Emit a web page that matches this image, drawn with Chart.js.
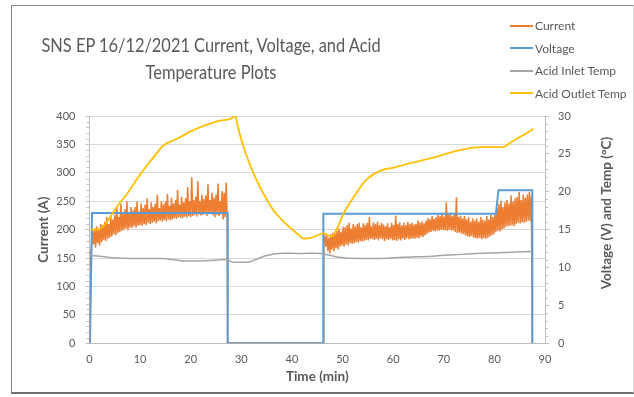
<!DOCTYPE html>
<html><head><meta charset="utf-8">
<script src="https://cdn.jsdelivr.net/npm/chart.js@4.4.1/dist/chart.umd.min.js"></script>
<style>
html,body{margin:0;padding:0;background:#fff;}
#wrap{position:relative;width:634px;height:397px;overflow:hidden;font-family:Lato,"Open Sans",sans-serif;}
#frame{position:absolute;left:11px;top:5px;width:621px;height:386px;border:1px solid #858585;border-bottom:2px solid #707070;border-right:1px solid #d6d6d6;}
#title{position:absolute;left:0;width:422px;top:31px;text-align:center;font-size:20px;line-height:27px;color:#595959;transform:scaleX(0.82);transform-origin:211px 0;white-space:nowrap;}
#legend{position:absolute;left:510px;top:14.5px;font-size:12px;color:#595959;}
.li{height:22.5px;display:flex;align-items:center;white-space:nowrap;}
.sw{width:23px;height:2px;margin-right:2px;}
canvas{position:absolute;left:0;top:0;}
</style></head>
<body><div id="wrap">
<div id="frame"></div>
<canvas id="c" width="634" height="397"></canvas>
<div id="title">SNS EP 16/12/2021 Current, Voltage, and Acid<br>Temperature Plots</div>
<div id="legend"></div>
</div>
<script>
const seriesNames = ["Current","Voltage","Acid Inlet Temp","Acid Outlet Temp"];
const seriesColors = ["#ED7D31","#5B9BD5","#A5A5A5","#FFC000"];
const xTicks = [0,10,20,30,40,50,60,70,80,90];
const leftTicks = [0,50,100,150,200,250,300,350,400];
const rightTicks = [0,5,10,15,20,25,30];

// Current (A): first run, samples from t=0.4 min every 0.2 min
const currentSeg1Start = 0.4, currentSeg1Step = 0.2;
const currentSeg1 = [
170,198,174,202,168,206,176,200,172,210,
178,208,182,214,180,222,184,210,186,225,
188,218,192,226,190,240,194,222,196,245,
198,230,200,236,202,250,199,228,204,240,
203,234,206,240,204,250,207,232,208,246,
207,238,210,244,208,255,212,236,210,248,
212,240,214,246,211,262,215,238,216,250,
214,244,217,250,215,263,218,242,216,256,
218,246,220,252,219,270,222,244,221,258,
220,248,223,255,221,275,224,250,222,292,
224,252,226,258,223,285,227,250,225,262,
226,254,228,260,224,280,227,252,229,265,
225,256,222,262,226,281,224,250,227,268,
218,265,222,283,225
];
// Current (A): second run, samples from t=46.3 min every 0.2 min
const currentSeg2Start = 46.3, currentSeg2Step = 0.2;
const currentSeg2 = [
178,188,170,190,162,186,158,192,165,195,
162,194,168,198,165,202,170,196,172,205,
170,204,174,208,172,212,176,202,175,210,
176,206,178,210,177,212,180,204,179,211,
180,208,182,212,181,222,184,206,183,213,
182,210,184,214,181,208,185,212,183,209,
180,206,183,211,182,204,184,212,181,208,
182,225,180,210,183,213,181,207,184,212,
182,208,185,214,183,210,184,212,185,209,
184,210,186,216,185,212,188,214,187,211,
190,216,193,220,195,218,196,224,198,219,
197,222,199,226,198,224,200,228,199,223,
199,248,198,226,200,230,199,224,198,228,
196,257,194,222,195,225,193,220,192,224,
190,218,188,222,187,214,189,220,186,216,
185,220,184,214,186,222,183,218,185,216,
184,224,186,218,188,226,190,222,192,228,
196,238,198,245,197,251,200,240,202,248,
205,252,206,246,207,260,208,250,206,255,
210,258,212,266,211,252,213,262,212,256,
214,262,216,266,215,260
];
const currentEdgeTime = [0, 0.3, 27.3, 46.2, 87.5];
const currentEdgeValue = [0, 165, 0, 0, 0];

const voltageTime = [0.1,0.5,27.3,27.3,46.2,46.2,80.3,80.8,87.5,87.5];
const voltageValue = [0,17.2,17.2,0,0,17.1,17.1,20.2,20.2,0];

const inletTime = [0.3,2,5.4,10,14,19.2,23,27,28.4,31.3,33,35,38.3,41.6,44.9,46.2,48.9,53.5,57.4,62,67.9,72,77.8,82,87.4];
const inletTemp = [11.6,11.5,11.26,11.2,11.2,10.87,10.9,11.05,10.7,10.7,11.1,11.6,11.9,11.85,11.9,11.8,11.4,11.2,11.2,11.35,11.5,11.7,11.9,12.0,12.1];

const outletTime = [0.2,1.5,2.7,4,5.4,7.4,9,10.6,12.6,14.6,16.6,17.9,19.8,21.8,23.8,25.8,27.8,28.5,28.8,29.2,29.7,30.5,31.4,32.5,33.7,35,36.3,38,39.6,41,42.4,43.6,44.9,46.2,47.9,49,50.2,52.2,53.5,54.9,57.5,60.1,63,67.9,70.9,73.9,77.2,81.8,83,84.4,86,87.7];
const outletTemp = [15.0,15.0,15.4,16.6,18.0,19.7,21.3,22.8,24.5,26.1,26.8,27.2,27.9,28.5,29.0,29.4,29.6,29.9,30.0,28.9,27.6,25.8,24.1,22.3,20.6,19.0,17.6,16.3,15.3,14.5,13.8,13.9,14.2,14.5,14.1,15.3,17.1,19.3,20.6,21.7,22.8,23.2,23.7,24.5,25.1,25.6,25.9,25.9,26.4,27.0,27.6,28.3];

// build point lists
function pts(t, v){ return t.map((x,i)=>({x:x,y:v[i]})); }
const currentPts = [];
currentPts.push({x:currentEdgeTime[0],y:currentEdgeValue[0]},{x:currentEdgeTime[1],y:currentEdgeValue[1]});
currentSeg1.forEach((v,i)=>currentPts.push({x:+(currentSeg1Start+i*currentSeg1Step).toFixed(3),y:v}));
currentPts.push({x:currentEdgeTime[2],y:currentEdgeValue[2]},{x:currentEdgeTime[3],y:currentEdgeValue[3]});
currentSeg2.forEach((v,i)=>currentPts.push({x:+(currentSeg2Start+i*currentSeg2Step).toFixed(3),y:v}));
currentPts.push({x:currentEdgeTime[4],y:currentEdgeValue[4]});

// legend
const lg = document.getElementById('legend');
seriesNames.forEach((n,i)=>{
  const d=document.createElement('div'); d.className='li';
  d.innerHTML='<span class="sw" style="background:'+seriesColors[i]+'"></span><span>'+n+'</span>';
  lg.appendChild(d);
});

const txt = '#595959', axisCol = '#bfbfbf', gridCol = '#d9d9d9';
const FONT = 'Lato';

const extras = {
  id:'extras',
  afterDraw(chart){
    const ctx = chart.ctx, y = chart.scales.y, y2 = chart.scales.y2;
    ctx.save();
    ctx.strokeStyle = axisCol; ctx.lineWidth = 1;
    for(let v=0; v<=400; v+=10){ if(v%50===0) continue;
      const p = Math.round(y.getPixelForValue(v))+0.5;
      ctx.beginPath(); ctx.moveTo(y.right-3,p); ctx.lineTo(y.right,p); ctx.stroke(); }
    for(let v=0; v<=30; v+=1){ if(v%5===0) continue;
      const p = Math.round(y2.getPixelForValue(v))+0.5;
      ctx.beginPath(); ctx.moveTo(y2.left,p); ctx.lineTo(y2.left+3,p); ctx.stroke(); }
    // right axis title (reads bottom to top)
    ctx.translate(607, 213); ctx.rotate(-Math.PI/2);
    ctx.fillStyle = txt; ctx.font = 'bold 13.5px '+FONT;
    ctx.textAlign='center'; ctx.textBaseline='middle';
    ctx.fillText('Voltage (V) and Temp (°C)', 0, 0);
    ctx.restore();
  }
};

new Chart(document.getElementById('c'), {
  type:'line',
  data:{ datasets:[
    {label:seriesNames[0], data:currentPts, borderColor:seriesColors[0], borderWidth:1.5, yAxisID:'y', order:4},
    {label:seriesNames[1], data:pts(voltageTime,voltageValue), borderColor:seriesColors[1], borderWidth:2, yAxisID:'y2', order:3},
    {label:seriesNames[2], data:pts(inletTime,inletTemp), borderColor:seriesColors[2], borderWidth:1.5, yAxisID:'y2', order:2, cubicInterpolationMode:'monotone'},
    {label:seriesNames[3], data:pts(outletTime,outletTemp), borderColor:seriesColors[3], borderWidth:1.8, yAxisID:'y2', order:1, cubicInterpolationMode:'monotone'}
  ]},
  options:{
    responsive:false, animation:false, devicePixelRatio:1,
    elements:{point:{radius:0}, line:{tension:0}},
    layout:{padding:{left:36,right:19,top:116,bottom:12}},
    plugins:{legend:{display:false}, tooltip:{enabled:false}, title:{display:false}},
    scales:{
      x:{type:'linear', min:0, max:90, afterBuildTicks(s){ s.ticks = xTicks.map(v=>({value:v})); },
        grid:{display:false, drawTicks:false}, border:{display:true,color:axisCol},
        ticks:{color:txt, font:{family:FONT,size:11}, padding:10, maxRotation:0},
        title:{display:true, text:'Time (min)', color:txt, font:{family:FONT,size:13.5,weight:'bold'}, padding:0},
        afterFit(s){ s.height = 397-12-343.3; }
      },
      y:{position:'left', min:0, max:400, afterBuildTicks(s){ s.ticks = leftTicks.map(v=>({value:v})); },
        grid:{color:gridCol, tickLength:4, tickColor:axisCol}, border:{color:axisCol},
        ticks:{color:txt, font:{family:FONT,size:11}, padding:10},
        title:{display:true, text:'Current (A)', color:txt, font:{family:FONT,size:13.5,weight:'bold'}, padding:0},
        afterFit(s){ s.width = 89.5-36; }
      },
      y2:{position:'right', min:0, max:30, afterBuildTicks(s){ s.ticks = rightTicks.map(v=>({value:v})); },
        grid:{drawOnChartArea:false, tickLength:4, color:axisCol}, border:{color:axisCol},
        ticks:{color:txt, font:{family:FONT,size:11}, padding:9},
        afterFit(s){ s.width = 634-19-545; }
      }
    }
  },
  plugins:[extras]
});
</script>
</body></html>
